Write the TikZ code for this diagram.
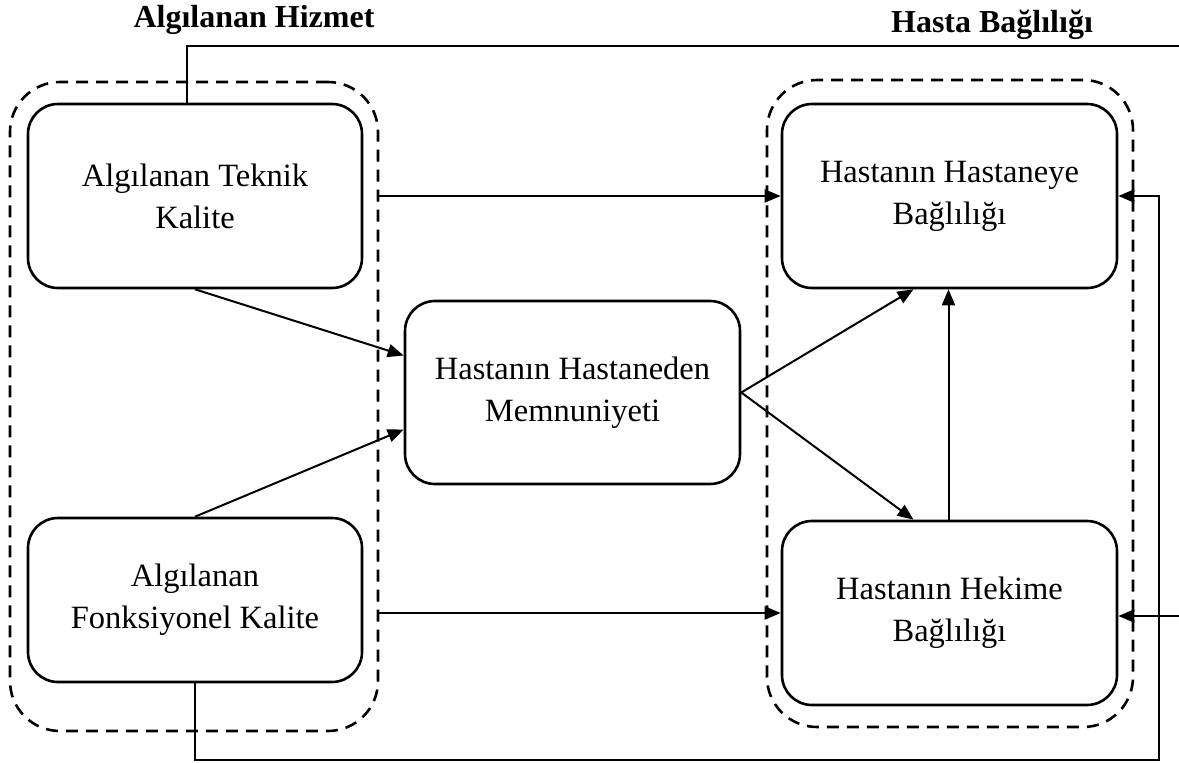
\documentclass[tikz,border=0pt]{standalone}
\usepackage{fontspec}
\setmainfont{Liberation Serif}
\usetikzlibrary{arrows.meta}
\begin{document}
\begin{tikzpicture}[x=1pt,y=-1pt,
 box/.style={draw, line width=2.6pt, rounded corners=30pt, minimum width=334pt, minimum height=184pt, align=center, inner sep=0pt, font=\fontsize{32.5}{42}\selectfont},
 grp/.style={draw, line width=2.6pt, dash pattern=on 12pt off 8pt, rounded corners=50pt, inner sep=0pt},
 arr/.style={line width=2pt, -{Triangle[length=16pt,width=13pt]}},
 ln/.style={line width=2pt},
 ttl/.style={font=\fontsize{32}{36}\selectfont\bfseries, inner sep=0pt}]
\useasboundingbox (0,0) rectangle (1179,763);
\node[grp, minimum width=368pt, minimum height=649pt] (lg) at (194,406.5) {};
\node[grp, minimum width=366pt, minimum height=647pt] (rg) at (950,403.5) {};
\node[box] (tek) at (195,196) {Algılanan Teknik\\Kalite};
\node[box, minimum height=164pt] (fon) at (195,600) {Algılanan\\Fonksiyonel Kalite};
\node[box, minimum width=335pt, minimum height=183pt] (mem) at (572.5,392.5) {Hastanın Hastaneden\\Memnuniyeti};
\node[box, minimum width=335pt] (hst) at (949.5,196) {Hastanın Hastaneye\\Bağlılığı};
\node[box, minimum width=335pt] (hek) at (949.5,613) {Hastanın Hekime\\Bağlılığı};
\node[ttl, anchor=base] (t1) at (254,27) {Algılanan Hizmet};
\node[ttl, anchor=base] (t2) at (992,32) {Hasta Bağlılığı};
\coordinate (tr) at (1179,46);
\coordinate (br) at (1179,616);
\coordinate (bl) at (1159,760);
\draw[arr] (lg.east |- tek.east) -- (hst.west);
\draw[arr] (lg.east |- hek.west) -- (hek.west);
\draw[arr] (tek.south) -- ([yshift=37pt]mem.west);
\draw[arr] (fon.north) -- ([yshift=-37pt]mem.west);
\draw[arr] (mem.east) -- ([xshift=-36pt]hst.south);
\draw[arr] (mem.east) -- ([xshift=-36pt]hek.north);
\draw[arr] ([xshift=-1pt]hek.north) -- ([xshift=-1pt]hst.south);
\draw[ln] ([xshift=-8pt]tek.north) |- (tr);
\draw[arr] (br) -- (hek.east |- br);
\draw[arr] (fon.south) |- (bl) |- (hst.east);
\end{tikzpicture}
\end{document}
